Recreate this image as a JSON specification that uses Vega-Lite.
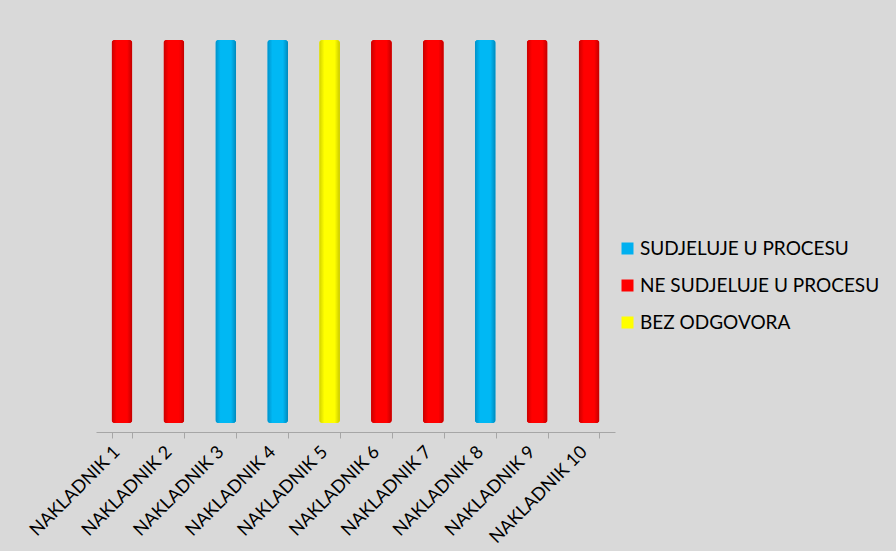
{
  "$schema": "https://vega.github.io/schema/vega-lite/v6.json",
  "width": 519,
  "height": 383,
  "autosize": {"type": "none"},
  "padding": {"left": 96, "top": 40, "right": 281, "bottom": 128},
  "background": "#d9d9d9",
  "data": {
    "values": [
      {"nakladnik": "NAKLADNIK 1", "status": "NE SUDJELUJE U PROCESU", "vrijednost": 1},
      {"nakladnik": "NAKLADNIK 2", "status": "NE SUDJELUJE U PROCESU", "vrijednost": 1},
      {"nakladnik": "NAKLADNIK 3", "status": "SUDJELUJE U PROCESU", "vrijednost": 1},
      {"nakladnik": "NAKLADNIK 4", "status": "SUDJELUJE U PROCESU", "vrijednost": 1},
      {"nakladnik": "NAKLADNIK 5", "status": "BEZ ODGOVORA", "vrijednost": 1},
      {"nakladnik": "NAKLADNIK 6", "status": "NE SUDJELUJE U PROCESU", "vrijednost": 1},
      {"nakladnik": "NAKLADNIK 7", "status": "NE SUDJELUJE U PROCESU", "vrijednost": 1},
      {"nakladnik": "NAKLADNIK 8", "status": "SUDJELUJE U PROCESU", "vrijednost": 1},
      {"nakladnik": "NAKLADNIK 9", "status": "NE SUDJELUJE U PROCESU", "vrijednost": 1},
      {"nakladnik": "NAKLADNIK 10", "status": "NE SUDJELUJE U PROCESU", "vrijednost": 1}
    ]
  },
  "encoding": {
    "x": {
      "field": "nakladnik",
      "type": "nominal",
      "sort": null,
      "scale": {"paddingInner": 0.6, "paddingOuter": 0.3},
      "axis": {
        "title": null,
        "labelAngle": -45,
        "labelAlign": "right",
        "labelBaseline": "middle",
        "labelFont": "Lato",
        "labelFontSize": 18,
        "labelColor": "#000000",
        "labelPadding": 11,
        "labelOffset": -5,
        "domainColor": "#a6a6a6",
        "tickColor": "#a6a6a6",
        "tickBand": "extent",
        "tickSize": 6,
        "offset": 9
      }
    },
    "y": {
      "field": "vrijednost",
      "type": "quantitative",
      "scale": {"domain": [0, 1]},
      "axis": null
    }
  },
  "layer": [
    {
      "mark": {"type": "bar", "cornerRadius": 3},
      "encoding": {
        "color": {
          "field": "status",
          "type": "nominal",
          "scale": {
            "domain": ["SUDJELUJE U PROCESU", "NE SUDJELUJE U PROCESU", "BEZ ODGOVORA"],
            "range": ["#00b0f0", "#ff0000", "#ffff00"]
          },
          "legend": {
            "title": null,
            "orient": "none",
            "legendX": 522,
            "legendY": 199,
            "padding": 0,
            "symbolType": "square",
            "symbolSize": 144,
            "symbolStrokeWidth": 0,
            "labelFont": "Lato",
            "labelFontSize": 19,
            "labelColor": "#000000",
            "labelOffset": 3,
            "rowPadding": 17,
            "labelLimit": 300
          }
        }
      }
    },
    {
      "transform": [{"filter": "datum.status === 'NE SUDJELUJE U PROCESU'"}],
      "mark": {
        "type": "bar",
        "cornerRadius": 3,
        "fill": {
          "gradient": "linear", "x1": 0, "x2": 1, "y1": 0, "y2": 0,
          "stops": [
            {"offset": 0, "color": "#c80000"},
            {"offset": 0.25, "color": "#ff0000"},
            {"offset": 0.75, "color": "#ff0000"},
            {"offset": 1, "color": "#c00000"}
          ]
        }
      }
    },
    {
      "transform": [{"filter": "datum.status === 'SUDJELUJE U PROCESU'"}],
      "mark": {
        "type": "bar",
        "cornerRadius": 3,
        "fill": {
          "gradient": "linear", "x1": 0, "x2": 1, "y1": 0, "y2": 0,
          "stops": [
            {"offset": 0, "color": "#0090c8"},
            {"offset": 0.25, "color": "#00b8f4"},
            {"offset": 0.75, "color": "#00b8f4"},
            {"offset": 1, "color": "#0088bb"}
          ]
        }
      }
    },
    {
      "transform": [{"filter": "datum.status === 'BEZ ODGOVORA'"}],
      "mark": {
        "type": "bar",
        "cornerRadius": 3,
        "fill": {
          "gradient": "linear", "x1": 0, "x2": 1, "y1": 0, "y2": 0,
          "stops": [
            {"offset": 0, "color": "#d0d000"},
            {"offset": 0.25, "color": "#ffff00"},
            {"offset": 0.75, "color": "#ffff00"},
            {"offset": 1, "color": "#c8c800"}
          ]
        }
      }
    }
  ],
  "config": {"view": {"stroke": null}}
}
